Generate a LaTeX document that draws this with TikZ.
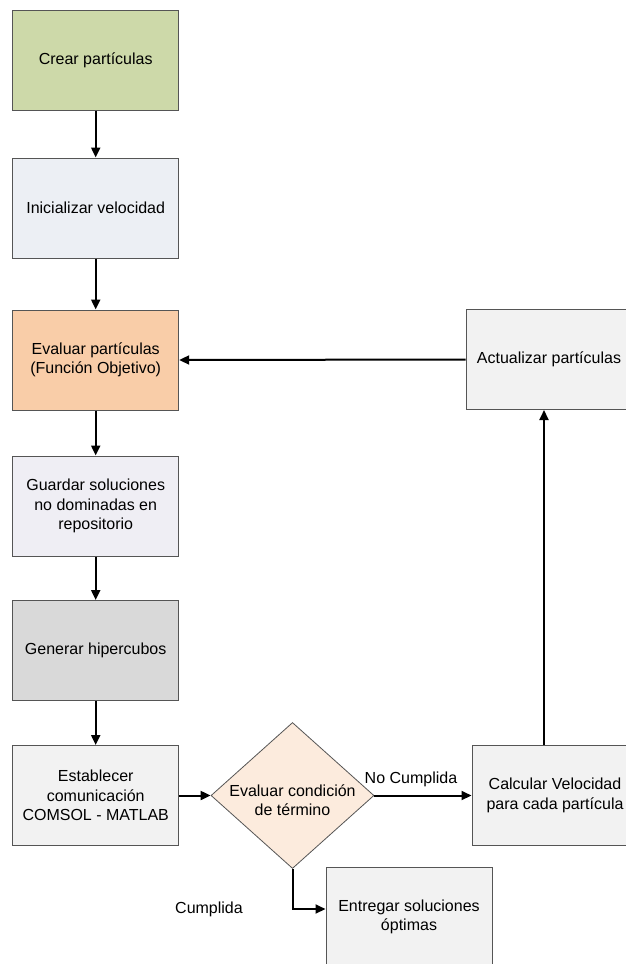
\documentclass[tikz,border=0pt]{standalone}
\usepackage{fontspec}
\setmainfont{Liberation Sans}
\usetikzlibrary{shapes.geometric,arrows.meta}

\definecolor{verdecaja}{HTML}{CDD9A9}
\definecolor{azulcaja}{HTML}{ECEFF4}
\definecolor{naranjacaja}{HTML}{F9CDA8}
\definecolor{lilacaja}{HTML}{EFEEF4}
\definecolor{grisoscuro}{HTML}{D9D9D9}
\definecolor{grisclaro}{HTML}{F2F2F2}
\definecolor{rombo}{HTML}{FCEBDD}
\definecolor{borde}{HTML}{555555}

\begin{document}
\begin{tikzpicture}[x=1bp, y=-1bp,
    every node/.style={font=\fontsize{16bp}{19.5bp}\selectfont},
    caja/.style={draw=borde, line width=1bp, minimum width=166bp, minimum height=100bp,
      align=center, inner sep=2bp},
    decision/.style={diamond, draw=borde, line width=0.8bp, fill=rombo, minimum width=163bp,
      minimum height=146bp, inner sep=0pt},
    flecha/.style={line width=2bp, -{Triangle[length=10bp, width=9bp]}}]

    \useasboundingbox (0,0) rectangle (626,964);

    \node[caja, fill=verdecaja]   (crear) at (95.7, 60)    {Crear partículas};
    \node[caja, fill=azulcaja]    (ini)   at (95.7, 208)   {Inicializar velocidad};
    \node[caja, fill=naranjacaja] (eva)   at (95.7, 360)   {Evaluar partículas\\(Función Objetivo)};
    \node[caja, fill=lilacaja]    (guar)  at (95.7, 506)   {Guardar soluciones\\no dominadas en\\repositorio};
    \node[caja, fill=grisoscuro]  (gen)   at (95.7, 650.5) {Generar hipercubos};
    \node[caja, fill=grisclaro]   (est)   at (95.7, 795.5) {Establecer\\comunicación\\COMSOL - MATLAB};

    \node[decision] (dia) at (292.5, 795.5) {};
    \node[align=center, inner sep=0pt] (diatexto) at (292.5, 800) {Evaluar condición\\de término};

    \node[caja, fill=grisclaro] (calc) at (555, 795.5) {Calcular Velocidad\\para cada partícula};
    \node[caja, fill=grisclaro] (act)  at (549, 359.5) {Actualizar partículas};
    \node[caja, fill=grisclaro] (ent)  at (409, 917)   {Entregar soluciones\\óptimas};

    \node (cumple) at (209, 909) {Cumplida};

    % flujo principal
    \draw[flecha] (crear) -- (ini);
    \draw[flecha] (ini) -- (eva);
    \draw[flecha] (eva) -- (guar);
    \draw[flecha] (guar) -- (gen);
    \draw[flecha] (gen) -- (est);
    \draw[flecha] (est) -- (dia);

    \draw[flecha] (dia.east) -- node[above, xshift=-12bp, yshift=4bp] (nocumple) {No Cumplida} (calc.west);
    \draw[flecha] (dia.south) |- ([yshift=8bp]ent.west);

    % ciclo de actualizacion
    \coordinate (sube) at ([xshift=-5bp]act.south);
    \draw[flecha] (calc.north -| sube) -- (sube);
    \draw[flecha] (act.west) -- (eva.east);

  \end{tikzpicture}
\end{document}
